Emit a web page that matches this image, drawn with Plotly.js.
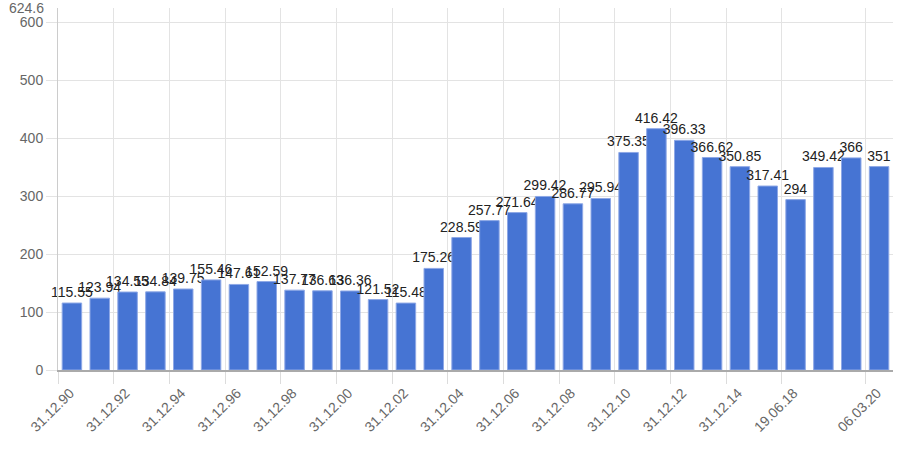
<!DOCTYPE html>
<html>
<head>
<meta charset="utf-8">
<script src="https://cdn.plot.ly/plotly-3.0.1.min.js"></script>
<style>html,body{margin:0;padding:0;background:#fff}#chart{width:900px;height:450px}</style>
</head>
<body>
<div id="chart"></div>
<script>
var categories = ["31.12.90","31.12.91","31.12.92","31.12.93","31.12.94","31.12.95","31.12.96","31.12.97","31.12.98","31.12.99",
  "31.12.00","31.12.01","31.12.02","31.12.03","31.12.04","31.12.05","31.12.06","31.12.07","31.12.08","31.12.09",
  "31.12.10","31.12.11","31.12.12","31.12.13","31.12.14","31.12.16","19.06.18","31.12.18","31.12.19","06.03.20"];
var values = [115.55,123.94,134.55,134.84,139.75,155.46,147.61,152.59,137.77,136.63,
  136.36,121.52,115.48,175.26,228.59,257.77,271.64,299.42,286.77,295.94,
  375.35,416.42,396.33,366.62,350.85,317.41,294,349.42,366,351];
var tickLabels = ["31.12.90","31.12.92","31.12.94","31.12.96","31.12.98","31.12.00","31.12.02","31.12.04",
  "31.12.06","31.12.08","31.12.10","31.12.12","31.12.14","19.06.18","06.03.20"];
var yTicks = [0,100,200,300,400,500,600];
var yMax = 624.6;

var xIdx = categories.map(function(c,i){return i;});
var tickPos = tickLabels.map(function(t){return categories.indexOf(t) - 0.5;});

var font = '"Liberation Sans", Arial, sans-serif';
var trace = {
  type: 'bar',
  x: xIdx,
  y: values,
  text: values.map(function(v){return String(v);}),
  textposition: 'outside',
  textfont: {family: font, size: 14, color: '#222'},
  cliponaxis: false,
  constraintext: 'none',
  width: 0.7,
  marker: {color: '#4674d3', line: {color: '#8ea8e6', width: 1}},
  hoverinfo: 'x+y'
};

var layout = {
  width: 900, height: 450,
  margin: {l: 58, r: 7, t: 7.5, b: 79.5},
  paper_bgcolor: '#fff', plot_bgcolor: '#fff',
  showlegend: false,
  xaxis: {
    range: [-0.5, categories.length - 0.5],
    tickmode: 'array', tickvals: tickPos, ticktext: tickLabels,
    tickangle: -45,
    ticks: 'outside', ticklen: 12, tickcolor: '#dcdcdc',
    ticklabelshift: 12, ticklabelstandoff: -4,
    showgrid: true, gridcolor: '#e3e3e3',
    showline: true, linecolor: '#aaaaaa', linewidth: 1.5,
    zeroline: false,
    tickfont: {family: font, size: 14, color: '#666'}
  },
  yaxis: {
    range: [0, yMax],
    tickmode: 'array', tickvals: yTicks,
    ticks: 'outside', ticklen: 11, tickcolor: '#e3e3e3',
    showgrid: true, gridcolor: '#e3e3e3',
    showline: true, linecolor: '#cccccc',
    zeroline: false,
    tickfont: {family: font, size: 14, color: '#666'}
  },
  annotations: [{
    xref: 'paper', yref: 'y', x: 0, y: yMax, xanchor: 'right', yanchor: 'middle',
    xshift: -12, text: String(yMax), showarrow: false,
    font: {family: font, size: 14, color: '#666'}
  }]
};
Plotly.newPlot('chart', [trace], layout, {displayModeBar: false, staticPlot: true});
</script>
</body>
</html>
